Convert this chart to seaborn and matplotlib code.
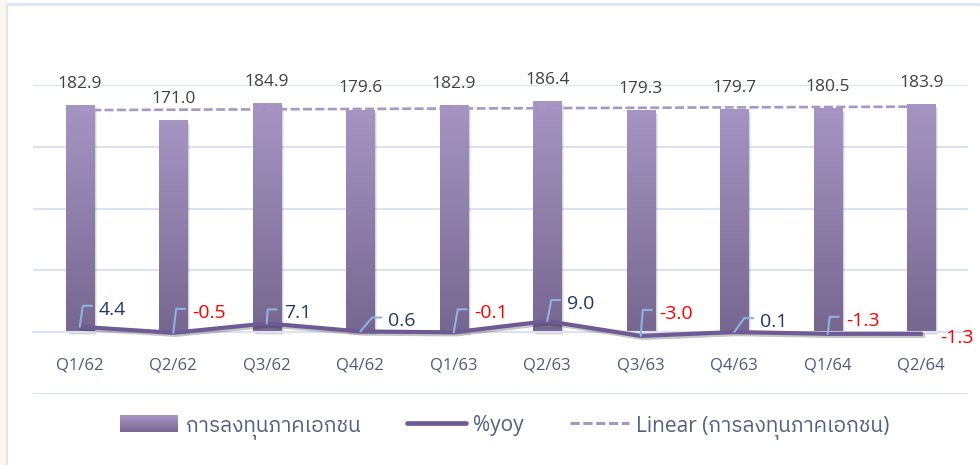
import numpy as np
import pandas as pd
import matplotlib
matplotlib.use("Agg")
import matplotlib.pyplot as plt
import matplotlib.patheffects as pe
from matplotlib import font_manager as fm
from matplotlib.ft2font import FT2Font
from matplotlib.patches import Rectangle, Patch
from matplotlib.lines import Line2D
from matplotlib.legend_handler import HandlerBase
from matplotlib.colors import LinearSegmentedColormap
from matplotlib.transforms import IdentityTransform, ScaledTranslation
import seaborn as sns

# ---------------- data ----------------
quarters = ["Q1/62", "Q2/62", "Q3/62", "Q4/62", "Q1/63",
            "Q2/63", "Q3/63", "Q4/63", "Q1/64", "Q2/64"]
investment = [182.9, 171.0, 184.9, 179.6, 182.9, 186.4, 179.3, 179.7, 180.5, 183.9]
yoy = [4.4, -0.5, 7.1, 0.6, -0.1, 9.0, -3.0, 0.1, -1.3, -1.3]
series_names = ["การลงทุนภาคเอกชน", "%yoy", "Linear (การลงทุนภาคเอกชน)"]

# label placement (pixels): dx = category centre -> label left, dy = point -> label centre (down +)
yoy_label_dx = [19, 19, 17, 28, 20, 20, 18, 26, 18, 19]
yoy_label_dy = [-17, -20, -10, -10, -19, -17, -22, -10, -13, 4]
yoy_leader = [True] * 9 + [False]

# ---------------- fonts ----------------
def find_thai_font():
    best = None
    for f in fm.fontManager.ttflist:
        try:
            cm = FT2Font(f.fname).get_charmap()
        except Exception:
            continue
        if 0x0E01 in cm and 0x0E38 in cm:
            if best is None or ("Sans" in f.name and "Sans" not in best):
                best = f.name
    return best

thai = find_thai_font()
sns.set_theme(style="white")
fams = ["Open Sans"] + ([thai] if thai else []) + ["DejaVu Sans"]
plt.rcParams["font.family"] = fams

# ---------------- colours ----------------
grid_c = "#D9E3F2"
bar_cmap = LinearSegmentedColormap.from_list("bar", ["#766790", "#A695C3"])
line_c = "#6E5A94"
trend_c = "#A996C6"
tick_c = "#4A5A7A"
pos_c = "#1F3864"
neg_c = "#FF0000"
leader_c = "#8DB3E2"

W, H = 980, 465
fig = plt.figure(figsize=(W / 100, H / 100), dpi=100)
fig.patch.set_facecolor("white")
# outer chart frame
fig.add_artist(Rectangle((0, 0), 7 / W, 1, transform=fig.transFigure,
                         facecolor="#FAF7EF", edgecolor="none", zorder=0))
fig.add_artist(Line2D([7 / W, 7 / W], [0, 1 - 4 / H], transform=fig.transFigure,
                      color="#DCE6F2", lw=1.5, zorder=1))
fig.add_artist(Line2D([7 / W, 1], [1 - 4 / H, 1 - 4 / H], transform=fig.transFigure,
                      color="#DCE6F2", lw=2.0, zorder=1))

ax = fig.add_axes([33 / W, 1 - 394 / H, (968 - 33) / W, (394 - 85) / H])
ax.set_facecolor("none")

df = pd.DataFrame({"quarter": quarters, "investment": investment, "yoy": yoy,
                   "pos": np.arange(len(quarters))})

sns.barplot(data=df, x="quarter", y="investment", width=0.3, ax=ax,
            color="#9584B0", saturation=1, zorder=2)

# gradient fill + shadow for bars
for p in list(ax.patches):
    x0, y0 = p.get_x(), p.get_y()
    w, h = p.get_width(), p.get_height()
    for off, a in [(3, 0.07), (2, 0.09)]:
        sh = Rectangle((x0, y0), w, h, facecolor="black", edgecolor="none", alpha=a,
                       transform=ax.transData + ScaledTranslation(off / 100, -off / 100, fig.dpi_scale_trans),
                       zorder=1.5)
        ax.add_patch(sh)
    grad = np.linspace(0, 1, 200).reshape(-1, 1)
    ax.imshow(grad, cmap=bar_cmap, extent=[x0, x0 + w, y0, y0 + h], origin="lower",
              aspect="auto", zorder=2.5, interpolation="bilinear")
    p.set_visible(False)

# linear trend of investment
coef = np.polyfit(df["pos"], df["investment"], 1)
tx = df["pos"].to_numpy()[[0, -1]]
ax.plot(tx, np.polyval(coef, tx), color=trend_c, lw=1.9, ls=(0, (3.4, 1.3)), zorder=4)

# %yoy line
sns.lineplot(data=df, x="pos", y="yoy", ax=ax, color=line_c, lw=3.0, sort=False, zorder=5,
             path_effects=[pe.SimpleLineShadow(offset=(1.5, -1.5), alpha=0.25), pe.Normal()])

ax.set_xlim(-0.5, len(quarters) - 0.5)
ax.set_ylim(-50, 200)
ax.set_xlabel("")
ax.set_ylabel("")

# grid & axes
ax.set_yticks([-50, 0, 50, 100, 150, 200])
ax.yaxis.grid(True, color=grid_c, lw=1.5)
ax.tick_params(axis="y", left=False, labelleft=False)
for s in ["top", "left", "right"]:
    ax.spines[s].set_visible(False)
ax.spines["bottom"].set_position(("data", 0))
ax.spines["bottom"].set_color(grid_c)
ax.spines["bottom"].set_linewidth(1.5)
ax.set_xticks(df["pos"])
ax.set_xticklabels(quarters)
ax.set_xticks(np.arange(len(quarters) + 1) - 0.5, minor=True)
ax.tick_params(axis="x", which="major", length=0, pad=18, labelsize=12, labelcolor=tick_c)
ax.tick_params(axis="x", which="minor", length=5, width=1.5, color=grid_c, direction="out")
ax.set_axisbelow(True)

# bar value labels
for i, v in enumerate(investment):
    ax.annotate(f"{v:.1f}", (i, v), xytext=(0, 13), textcoords="offset points",
                ha="center", va="baseline", fontsize=12.5, color="#404040",
                family=fams, annotation_clip=False, zorder=6)

# %yoy labels with leader lines (positions in pixels)
fig.canvas.draw()
ident = IdentityTransform()
for i, v in enumerate(yoy):
    px, py = ax.transData.transform((i, v))
    cx, _ = ax.transData.transform((i, 0))
    lx = cx + yoy_label_dx[i]
    ly = py - yoy_label_dy[i]
    if yoy_leader[i]:
        ax.add_line(Line2D([px, lx - 16, lx - 7], [py, ly + 4, ly + 4], transform=ident,
                           color=leader_c, lw=1.5, clip_on=False, zorder=6))
    ax.text(lx, ly, f"{v:.1f}", transform=ident, ha="left", va="center",
            fontsize=14, color=pos_c if v >= 0 else neg_c, family=fams,
            clip_on=False, zorder=7)

# legend
class GradHandler(HandlerBase):
    def create_artists(self, legend, orig_handle, xdescent, ydescent, width, height,
                       fontsize, trans):
        n = 16
        arts = []
        for k in range(n):
            arts.append(Rectangle((-xdescent, -ydescent + height * k / n), width,
                                  height / n + 0.4, facecolor=bar_cmap((k + 0.5) / n),
                                  edgecolor="none", transform=trans))
        return arts

handles = [Patch(), Line2D([], [], color=line_c, lw=3.4),
           Line2D([], [], color=trend_c, lw=2.2, ls=(0, (3.0, 1.2)))]
fig.legend(handles=handles, labels=series_names, handler_map={Patch: GradHandler()},
           loc="center", bbox_to_anchor=(0.515, 1 - 427 / H), ncol=3, frameon=False,
           fontsize=15, handlelength=2.8, handleheight=0.82, handletextpad=0.35,
           columnspacing=2.25, labelcolor="#4F6180")

fig.savefig("out.png", dpi=100)
